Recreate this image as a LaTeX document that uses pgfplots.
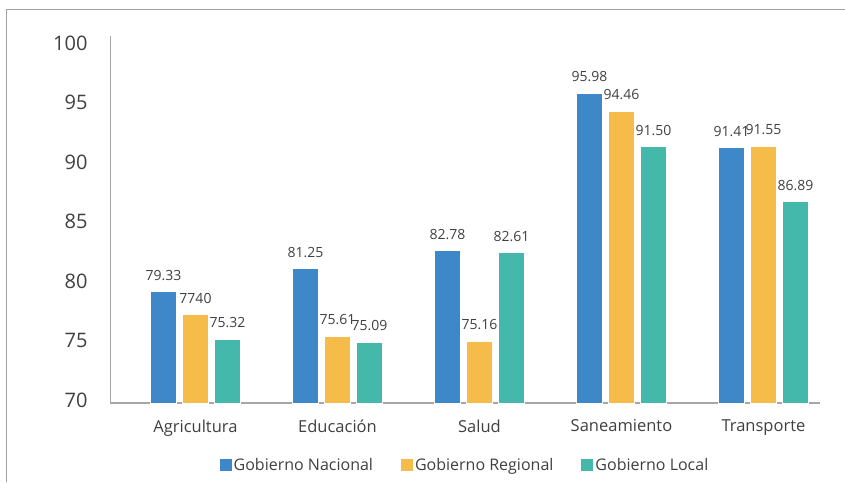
\documentclass[border=0pt]{standalone}
\usepackage{pgfplots}
\pgfplotsset{compat=1.18}
\usepackage{fontspec}
\setmainfont{Open Sans}

\definecolor{cBlue}{RGB}{62,135,200}
\definecolor{cYellow}{RGB}{245,188,74}
\definecolor{cTeal}{RGB}{69,184,172}
\definecolor{txt}{RGB}{64,64,64}
\definecolor{axgray}{RGB}{166,166,166}
\definecolor{framegray}{RGB}{160,160,160}

% x: categoria, y: valor, lab: etiqueta mostrada
\pgfplotstableread{
x y lab
0 79.33 79.33
1 81.25 81.25
2 82.78 82.78
3 95.98 95.98
4 91.41 91.41
}\nacional
\pgfplotstableread{
x y lab
0 77.40 7740
1 75.61 75.61
2 75.16 75.16
3 94.46 94.46
4 91.55 91.55
}\regional
\pgfplotstableread{
x y lab
0 75.32 75.32
1 75.09 75.09
2 82.61 82.61
3 91.50 91.50
4 86.89 86.89
}\local

\begin{document}
\begin{tikzpicture}[x=1pt,y=1pt]
\useasboundingbox (0,0) rectangle (845,482);
\draw[framegray, line width=1pt] (6.5,0) -- (6.5,472) -- (845,472);
\begin{axis}[
    at={(110pt,79pt)}, anchor=south west,
    scale only axis, width=710pt, height=367pt,
    ybar=6pt, bar width=26pt,
    xmin=-0.602, xmax=4.398,
    ymin=70, ymax=100.8,
    ytick={70,75,...,100},
    xtick={0,1,2,3,4},
    xticklabels={Agricultura,Educación,Salud,Saneamiento,Transporte},
    axis x line*=bottom, axis y line*=left,
    x axis line style={-, draw=axgray, line width=1.6pt},
    y axis line style={-, draw=axgray, line width=0.8pt},
    major tick length=0pt,
    /pgf/number format/assume math mode=true,
    yticklabel style={font=\fontsize{20}{20}\selectfont, text=txt, xshift=-19pt, yshift=2.5pt},
    xticklabel style={font=\fontsize{16.5}{16.5}\selectfont, text=txt, yshift=-13pt},
    nodes near coords={\pgfplotspointmeta},
    point meta=explicit symbolic,
    every node near coord/.append style={font=\fontsize{14}{14}\selectfont, text=txt, anchor=south, inner sep=0pt, yshift=11pt},
    legend columns=3,
    legend style={at={(axis description cs:0.5,-0.169)}, anchor=center, draw=none,
        font=\fontsize{16}{16}\selectfont, text=txt, cells={anchor=west},
        /tikz/every even column/.append style={column sep=26pt}},
]
\addplot[fill=cBlue, draw=white, line width=1pt,
    legend image code/.code={\fill[cBlue] (0pt,-5.5pt) rectangle (11pt,5.5pt);}]
    table[x=x, y=y, meta=lab] {\nacional};
\addplot[fill=cYellow, draw=white, line width=1pt,
    legend image code/.code={\fill[cYellow] (0pt,-5.5pt) rectangle (11pt,5.5pt);}]
    table[x=x, y=y, meta=lab] {\regional};
\addplot[fill=cTeal, draw=white, line width=1pt,
    legend image code/.code={\fill[cTeal] (0pt,-5.5pt) rectangle (11pt,5.5pt);}]
    table[x=x, y=y, meta=lab] {\local};
\legend{Gobierno Nacional, Gobierno Regional, Gobierno Local}
\end{axis}
\end{tikzpicture}
\end{document}
